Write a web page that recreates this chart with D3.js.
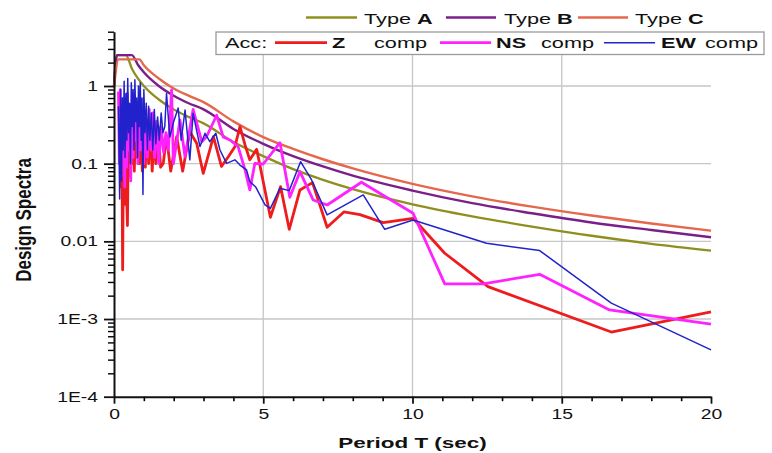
<!DOCTYPE html>
<html>
<head>
<meta charset="utf-8">
<script src="https://cdn.jsdelivr.net/npm/d3@7"></script>
<style>
  body { margin: 0; background: #fff; }
  svg { display: block; font-family: "Liberation Sans", Arial, sans-serif; }
</style>
</head>
<body>
<div id="chartDiv"></div>
<script>
// Design spectra
var periodsA = [0, 0.1, 0.4, 0.6, 0.8, 1, 1.5, 2, 2.5, 3, 4, 5, 6, 7, 8, 10, 12, 14, 16, 18, 20];
var typeA    = [1.0, 2.5, 2.5, 1.67, 1.25, 1.0, 0.67, 0.5, 0.4, 0.33, 0.19, 0.125, 0.085, 0.062, 0.047, 0.030, 0.021, 0.0155, 0.0118, 0.0093, 0.0076];
var periodsB = [0, 0.1, 0.6, 0.8, 1, 1.5, 2, 2.5, 3, 4, 5, 6, 7, 8, 10, 12, 14, 16, 18, 20];
var typeB    = [1.0, 2.5, 2.5, 1.88, 1.5, 1.0, 0.75, 0.6, 0.5, 0.28, 0.18, 0.125, 0.092, 0.07, 0.045, 0.031, 0.023, 0.0175, 0.014, 0.0113];
var periodsC = [0, 0.15, 0.85, 1, 1.5, 2, 2.5, 3, 4, 5, 6, 7, 8, 10, 12, 14, 16, 18, 20];
var typeC    = [0.95, 2.2, 2.2, 1.85, 1.25, 0.93, 0.75, 0.62, 0.35, 0.22, 0.155, 0.114, 0.087, 0.055, 0.038, 0.028, 0.0215, 0.017, 0.0137];

// Acceleration response spectra, Z component
var periodsZ = [0.20, 0.23, 0.26, 0.29, 0.32, 0.35, 0.38, 0.41, 0.45, 0.48,
                0.52, 0.56, 0.60, 0.64, 0.68, 0.72, 0.76, 0.80, 0.85, 0.90,
                0.95, 1.00, 1.05, 1.10, 1.16, 1.22, 1.28, 1.34, 1.40, 1.48,
                1.56, 1.65, 1.76, 1.90, 2.10, 2.30, 2.54, 2.77, 2.99, 3.21,
                3.33, 3.60, 3.83, 4.05, 4.22, 4.39, 4.55, 4.78, 5.24, 5.58,
                5.87, 6.23, 6.65, 7.14, 7.70, 8.24, 9.02, 10.02, 11.08, 12.53,
                16.66, 20];
var accZ = [0.35, 0.05, 0.3, 0.0043, 0.25, 0.03, 0.3, 0.06, 0.016, 0.2,
            0.07, 0.35, 0.1, 0.4, 0.08, 0.3, 0.12, 0.45, 0.1, 0.3,
            0.08, 0.25, 0.09, 0.35, 0.1, 0.3, 0.08, 0.25, 0.1, 0.3,
            0.09, 0.101, 0.223, 0.08, 0.223, 0.08, 0.258, 0.183, 0.075, 0.15,
            0.223, 0.092, 0.123, 0.165, 0.3, 0.174, 0.112, 0.153, 0.0204, 0.0506,
            0.0143, 0.0459, 0.057, 0.0152, 0.0239, 0.0221, 0.0174, 0.0198, 0.00703, 0.00261,
            0.00068, 0.00124];

// NS component
var periodsNS = [0.15, 0.18, 0.21, 0.24, 0.27, 0.30, 0.33, 0.36, 0.39, 0.42, 0.45, 0.48,
                 0.52, 0.56, 0.60, 0.64, 0.68, 0.72, 0.76, 0.80, 0.85, 0.90, 0.95, 1.00,
                 1.06, 1.12, 1.18, 1.24, 1.30, 1.36, 1.42, 1.50, 1.58, 1.66, 1.74, 1.82,
                 1.93, 1.99, 2.21, 2.38, 2.65, 2.94, 3.10, 3.44, 3.66, 3.90,
                 4.16, 4.39, 4.55, 4.72, 5.00, 5.56, 5.89, 6.23, 6.67, 7.14,
                 8.29, 10.02, 11.08, 12.37, 14.26, 16.60, 20];
var accNS = [0.85, 0.1, 0.9, 0.07, 0.5, 0.12, 0.7, 0.05, 0.6, 0.09, 0.8, 0.15,
             0.45, 0.06, 0.5, 0.12, 0.7, 0.2, 0.5, 0.1, 0.6, 0.15, 0.5, 0.1,
             0.4, 0.12, 0.5, 0.15, 0.45, 0.12, 0.35, 0.1, 0.3, 0.14, 0.25, 0.15,
             0.89, 0.1, 0.365, 0.123, 0.5, 0.192, 0.222, 0.42, 0.22, 0.2,
             0.165, 0.083, 0.0459, 0.101, 0.099, 0.186, 0.0369, 0.0789, 0.0341, 0.0294,
             0.0576, 0.023, 0.00283, 0.00283, 0.00377, 0.00131, 0.00086];

// EW component
var periodsEW = [0.15, 0.19, 0.22, 0.25, 0.28, 0.31, 0.34, 0.37, 0.40, 0.43,
                 0.46, 0.49, 0.52, 0.55, 0.58, 0.61, 0.64, 0.67, 0.70, 0.73,
                 0.76, 0.79, 0.82, 0.85, 0.88, 0.91, 0.94, 0.97, 1.00, 1.04,
                 1.08, 1.12, 1.16, 1.20, 1.25, 1.30, 1.35, 1.40, 1.46, 1.52,
                 1.58, 1.64, 1.70, 1.76, 1.87, 2.00, 2.15, 2.25, 2.38, 2.54,
                 2.65, 2.88, 3.05, 3.21, 3.41, 3.55, 3.77, 4.05, 4.22, 4.44,
                 4.55, 4.75, 5.06, 5.24, 5.56, 5.87, 6.25, 6.62, 7.14, 8.35,
                 9.07, 10.02, 12.48, 14.26, 16.66, 20];
var accEW = [0.55, 0.035, 0.9, 0.06, 0.7, 0.15, 1.15, 0.12, 0.8, 0.2,
             1.25, 0.25, 0.6, 0.1, 1.1, 0.3, 0.9, 0.15, 1.2, 0.35,
             0.7, 0.12, 1.0, 0.3, 1.1, 0.2, 0.7, 0.04, 0.9, 0.25,
             0.6, 0.15, 0.55, 0.2, 0.45, 0.15, 0.5, 0.18, 0.4, 0.2,
             0.45, 0.25, 0.3, 0.8, 0.22, 0.35, 0.52, 0.2, 0.49, 0.112,
             0.445, 0.166, 0.246, 0.192, 0.246, 0.15, 0.101, 0.112, 0.096, 0.083,
             0.0587, 0.05, 0.0294, 0.0266, 0.0482, 0.045, 0.106, 0.0617, 0.0219, 0.0396,
             0.0143, 0.0188, 0.00945, 0.0076, 0.0016, 0.0004];

// Axis ticks
var xTickValues = [0, 5, 10, 15, 20];
var xTickLabels = ["0", "5", "10", "15", "20"];
var yTickValues = [1e-4, 1e-3, 0.01, 0.1, 1];
var yTickLabels = ["1E-4", "1E-3", "0.01", "0.1", "1"];

var designNames = ["A", "B", "C"];
var compNames = ["Z", "NS", "EW"];

// Colours
var colorA = "#8f8f20", colorB = "#7b1f88", colorC = "#e5674c";
var colorZ = "#ee1c1c", colorNS = "#ff22ff", colorEW = "#2222cc";

var svgWidth = 772, svgHeight = 453;
var SX = 1.38; // the picture is stretched sideways, so is the text

var svg = d3.select('#chartDiv').append('svg')
  .attr('width', svgWidth)
  .attr('height', svgHeight);
svg.append('rect').attr('width', svgWidth).attr('height', svgHeight).attr('fill', '#fff');

var x = d3.scaleLinear().domain([0, 20]).range([114, 711]);
var y = d3.scaleLog().domain([1e-4, 5]).range([396.7, 31.7]);

// Grid lines
svg.append('g').selectAll('line')
  .data(xTickValues.filter(function(d) { return d > 0 && d < 20; }))
  .enter().append('line')
  .attr('x1', function(d) { return x(d); }).attr('x2', function(d) { return x(d); })
  .attr('y1', y(5)).attr('y2', y(1e-4))
  .attr('stroke', '#c6c6c6').attr('stroke-width', 1.3);
svg.append('g').selectAll('line')
  .data(yTickValues.filter(function(d) { return d > 1e-4; }))
  .enter().append('line')
  .attr('x1', x(0)).attr('x2', x(20))
  .attr('y1', function(d) { return y(d); }).attr('y2', function(d) { return y(d); })
  .attr('stroke', '#c6c6c6').attr('stroke-width', 1.3);

// Curves
function pairs(periods, values) {
  return periods.map(function(t, i) { return [t, values[i]]; });
}
var smoothLine = d3.line().x(function(d) { return x(d[0]); }).y(function(d) { return y(d[1]); }).curve(d3.curveMonotoneX);
var rawLine = d3.line().x(function(d) { return x(d[0]); }).y(function(d) { return y(d[1]); });

var curves = [
  { data: pairs(periodsA, typeA), color: colorA, width: 2.3, gen: smoothLine },
  { data: pairs(periodsB, typeB), color: colorB, width: 2.4, gen: smoothLine },
  { data: pairs(periodsC, typeC), color: colorC, width: 2.4, gen: smoothLine },
  { data: pairs(periodsZ, accZ), color: colorZ, width: 2.8, gen: rawLine },
  { data: pairs(periodsNS, accNS), color: colorNS, width: 2.8, gen: rawLine },
  { data: pairs(periodsEW, accEW), color: colorEW, width: 1.5, gen: rawLine }
];
curves.forEach(function(c) {
  svg.append('path')
    .datum(c.data)
    .attr('d', c.gen)
    .attr('fill', 'none')
    .attr('stroke', c.color)
    .attr('stroke-width', c.width)
    .attr('stroke-linejoin', 'round');
});

// Axes
var xMinor = d3.range(0, 21).filter(function(d) { return d % 5 !== 0; });
var yMinor = y.ticks().filter(function(d) { return yTickValues.indexOf(d) < 0; });

svg.append('g').attr('transform', 'translate(0,' + y(1e-4) + ')')
  .call(d3.axisBottom(x).tickValues(xMinor).tickSize(4.5).tickSizeOuter(0).tickFormat(''))
  .call(function(g) { g.select('.domain').remove(); g.selectAll('line').attr('stroke-width', 1.6); });
svg.append('g').attr('transform', 'translate(' + x(0) + ',0)')
  .call(d3.axisLeft(y).tickValues(yMinor).tickSize(6).tickSizeOuter(0).tickFormat(''))
  .call(function(g) { g.select('.domain').remove(); g.selectAll('line').attr('stroke-width', 1.4); });

var xAxis = svg.append('g').attr('transform', 'translate(0,' + y(1e-4) + ')')
  .call(d3.axisBottom(x).tickValues(xTickValues).tickSize(7).tickSizeOuter(0)
    .tickFormat(function(d, i) { return xTickLabels[i]; }));
xAxis.select('.domain').attr('stroke-width', 2).attr('stroke', '#111');
xAxis.selectAll('line').attr('stroke-width', 1.8).attr('stroke', '#111');
xAxis.selectAll('text')
  .attr('y', 22).attr('dy', 0)
  .attr('transform', 'scale(' + SX + ',1)')
  .attr('font-size', 14).attr('fill', '#111')
  .attr('font-family', '"Liberation Sans", Arial, sans-serif');

var yAxis = svg.append('g').attr('transform', 'translate(' + x(0) + ',0)')
  .call(d3.axisLeft(y).tickValues(yTickValues).tickSize(10).tickSizeOuter(0)
    .tickFormat(function(d, i) { return yTickLabels[i]; }));
yAxis.select('.domain').attr('stroke-width', 2).attr('stroke', '#111');
yAxis.selectAll('line').attr('stroke-width', 1.8).attr('stroke', '#111');
yAxis.selectAll('text')
  .attr('x', -16 / SX)
  .attr('transform', 'scale(' + SX + ',1)')
  .attr('font-size', 14).attr('fill', '#111')
  .attr('font-family', '"Liberation Sans", Arial, sans-serif');

// Text helper: a text squeezed like the picture
function stretched(px, py, sx, extra) {
  var g = svg.append('g').attr('transform', 'translate(' + px + ',' + py + ') scale(' + sx + ',1)' + (extra || ''));
  return g.append('text').attr('fill', '#111');
}

// Axis titles
stretched(412.5, 448, 1.45).attr('text-anchor', 'middle').attr('font-weight', 'bold')
  .attr('font-size', 15.5).text('Period T (sec)');
stretched(23.5, 220, 1.3, ' rotate(-90)').attr('text-anchor', 'middle').attr('dy', '0.35em')
  .attr('font-weight', 'bold').attr('font-size', 17).text('Design Spectra');

// Legend, first row: design spectra
var row1 = [
  { name: designNames[0], color: colorA, x0: 306, x1: 357, tx: 364 },
  { name: designNames[1], color: colorB, x0: 446, x1: 496, tx: 504 },
  { name: designNames[2], color: colorC, x0: 578, x1: 628, tx: 635 }
];
row1.forEach(function(d) {
  svg.append('line').attr('x1', d.x0).attr('x2', d.x1).attr('y1', 17.5).attr('y2', 17.5)
    .attr('stroke', d.color).attr('stroke-width', 2.4);
  var t = stretched(d.tx, 24, 1.4).attr('font-size', 15.5);
  t.append('tspan').text('Type ');
  t.append('tspan').attr('font-weight', 'bold').text(d.name);
});

// Legend, second row: accelerograms in a box
svg.append('rect').attr('x', 216).attr('y', 32).attr('width', 548).attr('height', 22.5)
  .attr('fill', '#fff').attr('stroke', '#9a9a9a').attr('stroke-width', 1.3);
stretched(225, 48, 1.4).attr('font-size', 15.5).text('Acc:');
var row2 = [
  { name: compNames[0], color: colorZ, width: 2.8, x0: 275, x1: 327, tx: 332, cx: 374 },
  { name: compNames[1], color: colorNS, width: 2.8, x0: 440, x1: 491, tx: 496, cx: 541 },
  { name: compNames[2], color: colorEW, width: 1.5, x0: 604, x1: 655, tx: 661, cx: 705 }
];
row2.forEach(function(d) {
  svg.append('line').attr('x1', d.x0).attr('x2', d.x1).attr('y1', 42.7).attr('y2', 42.7)
    .attr('stroke', d.color).attr('stroke-width', d.width);
  stretched(d.tx, 48, 1.4).attr('font-size', 15.5).attr('font-weight', 'bold').text(d.name);
  stretched(d.cx, 48, 1.4).attr('font-size', 15.5).text('comp');
});
</script>
</body>
</html>
